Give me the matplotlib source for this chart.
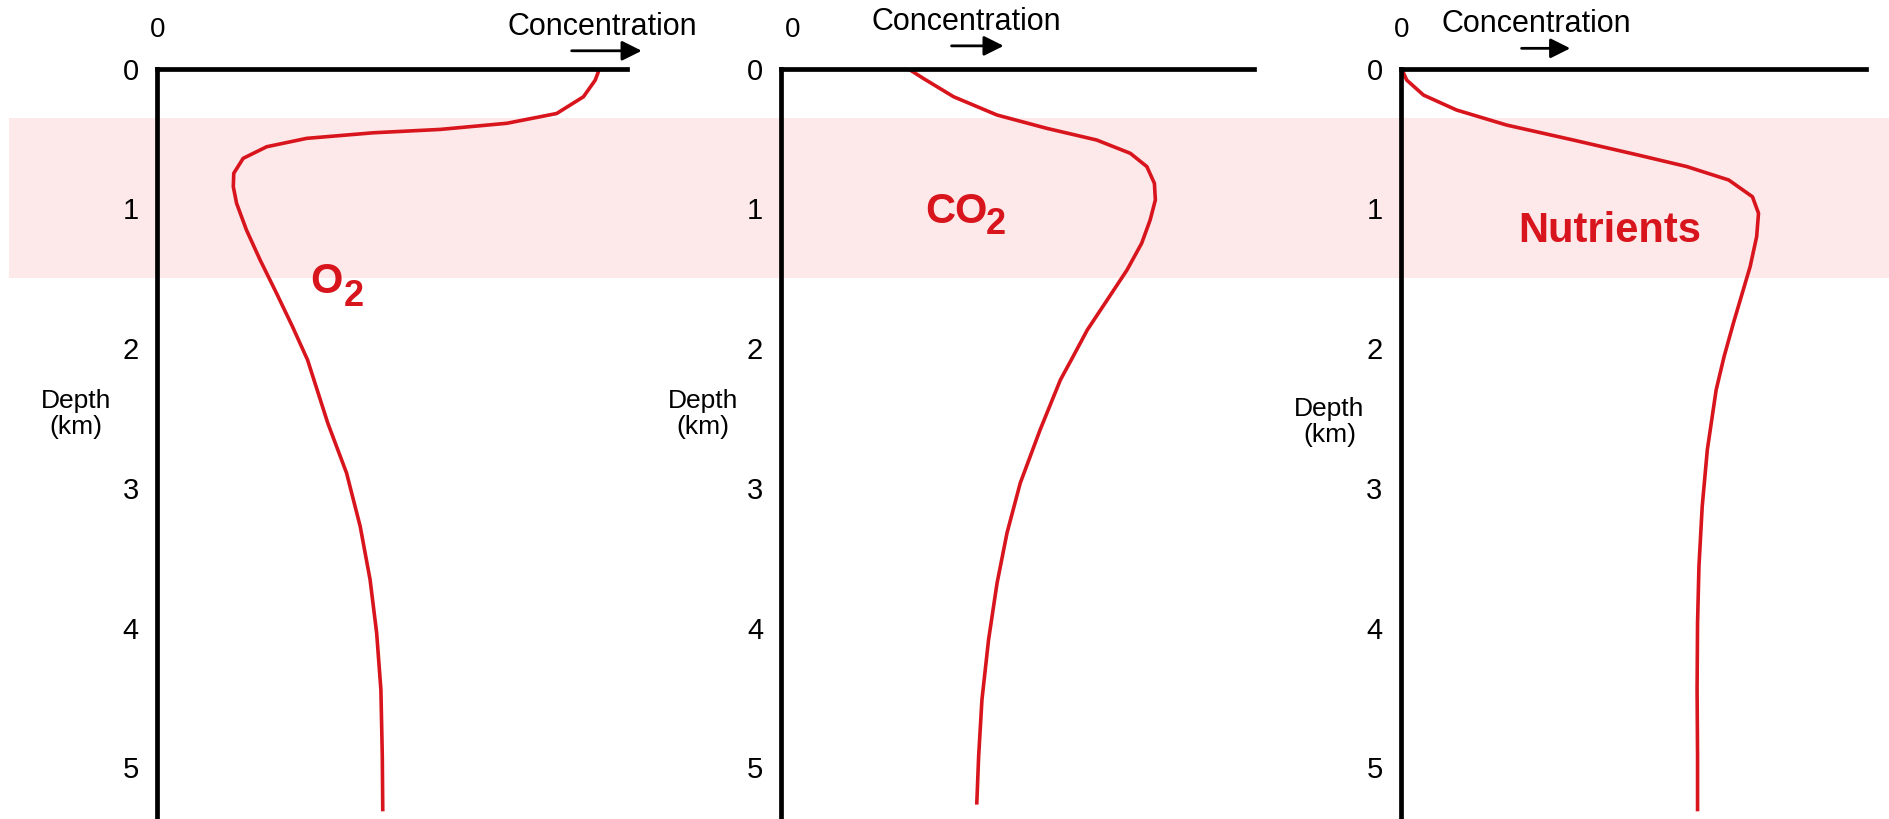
import numpy as np
import matplotlib.pyplot as plt
from matplotlib.patches import Rectangle, FancyArrowPatch

plt.rcParams['font.family'] = ['Liberation Sans', 'DejaVu Sans']

# Perfiles (profundidad en km, concentracion relativa 0-1)
o2_depth = [0, 0.081, 0.20, 0.32, 0.39, 0.434, 0.458, 0.498, 0.558, 0.641, 0.748,
            0.844, 0.963, 1.154, 1.368, 1.607, 1.846, 2.084, 2.536, 2.894, 3.276,
            3.657, 4.039, 4.444, 4.921, 5.315]
o2_conc = [0.942, 0.933, 0.908, 0.851, 0.745, 0.603, 0.461, 0.319, 0.234, 0.184,
           0.164, 0.163, 0.170, 0.191, 0.220, 0.255, 0.289, 0.321, 0.364, 0.404,
           0.433, 0.454, 0.468, 0.477, 0.480, 0.481]

co2_depth = [0, 0.069, 0.20, 0.331, 0.426, 0.51, 0.605, 0.70, 0.82, 0.939, 1.082,
             1.249, 1.44, 1.655, 1.869, 2.084, 2.227, 2.585, 2.966, 3.323, 3.681,
             4.087, 4.516, 4.921, 5.267]
co2_conc = [0.269, 0.301, 0.365, 0.457, 0.562, 0.668, 0.739, 0.774, 0.790, 0.792,
            0.781, 0.763, 0.732, 0.690, 0.648, 0.614, 0.591, 0.548, 0.506, 0.478,
            0.457, 0.439, 0.425, 0.418, 0.414]

nut_depth = [0, 0.081, 0.188, 0.295, 0.403, 0.51, 0.617, 0.70, 0.796, 0.916, 1.034,
             1.202, 1.416, 1.607, 1.821, 2.06, 2.298, 2.727, 3.133, 3.562, 3.967,
             4.444, 4.921, 5.315]
nut_conc = [0.002, 0.013, 0.049, 0.120, 0.228, 0.371, 0.510, 0.615, 0.705, 0.756,
            0.769, 0.765, 0.751, 0.734, 0.715, 0.695, 0.678, 0.659, 0.648, 0.641,
            0.638, 0.637, 0.638, 0.638]

depth_ticks = [0, 1, 2, 3, 4, 5]
band = (0.35, 1.5)  # zona sombreada (km)

red = '#d8141c'
ymax = 5.37

fig = plt.figure(figsize=(18.9, 8.19), dpi=100)

# Banda rosa de fondo a lo ancho de la figura
bg = fig.add_axes([0, 0, 1, 0.916])
bg.set_xlim(0, 1)
bg.set_ylim(ymax, 0)
bg.axis('off')
bg.add_patch(Rectangle((0.005, band[0]), 0.995, band[1] - band[0],
                       facecolor='#fde8ea', edgecolor='none'))

# (posicion, x, y, nombre, subindice, pos. nombre, pos. subindice, pos. Depth)
paneles = [
    ([0.0829, 0, 0.2487, 0.916], o2_conc, o2_depth, 'O', '2',
     (0.326, 1.607), (0.398, 1.697), (-0.172, 2.47)),
    ([0.4133, 0, 0.2500, 0.916], co2_conc, co2_depth, 'CO', '2',
     (0.305, 1.106), (0.434, 1.183), (-0.166, 2.47)),
    ([0.7411, 0, 0.2462, 0.916], nut_conc, nut_depth, 'Nutrients', '',
     (0.253, 1.237), None, (-0.153, 2.53)),
]

for pos, conc, depth, nombre, sub, pn, ps, pd in paneles:
    ax = fig.add_axes(pos)
    ax.set_facecolor('none')
    ax.plot(conc, depth, color=red, lw=2.6, solid_capstyle='butt',
            solid_joinstyle='round')
    ax.set_xlim(0, 1)
    ax.set_ylim(ymax, 0)
    for s in ['right', 'bottom']:
        ax.spines[s].set_visible(False)
    ax.spines['left'].set_linewidth(3.4)
    ax.spines['top'].set_linewidth(3.4)
    ax.set_xticks([])
    ax.set_yticks(depth_ticks)
    ax.set_yticklabels([str(t) for t in depth_ticks])
    ax.tick_params(axis='y', length=0, pad=13, labelsize=21)
    ax.text(pd[0], pd[1], 'Depth\n(km)', transform=ax.get_yaxis_transform(),
            ha='center', va='center', fontsize=19, linespacing=1.1)
    ax.text(pn[0], pn[1], nombre, color=red, fontsize=30, fontweight='bold',
            ha='left', va='baseline')
    if sub:
        ax.text(ps[0], ps[1], sub, color=red, fontsize=26, fontweight='bold',
                ha='left', va='baseline')

# Etiquetas superiores y flechas de concentracion
for x0, xc, yc, xa0, xa1, ya in [(0.0832, 0.3189, 0.9676, 0.301, 0.341, 0.938),
                                 (0.4196, 0.5115, 0.9735, 0.502, 0.5325, 0.944),
                                 (0.7417, 0.8131, 0.9705, 0.8036, 0.8323, 0.941)]:
    fig.text(x0, 0.963, '0', fontsize=20, ha='center', va='center')
    fig.text(xc, yc, 'Concentration', fontsize=22, ha='center', va='center')
    fig.patches.append(FancyArrowPatch(
        (xa0, ya), (xa1, ya), transform=fig.transFigure, arrowstyle='-|>',
        mutation_scale=30, lw=2.0, color='black'))

fig.savefig('out.png', dpi=100)
